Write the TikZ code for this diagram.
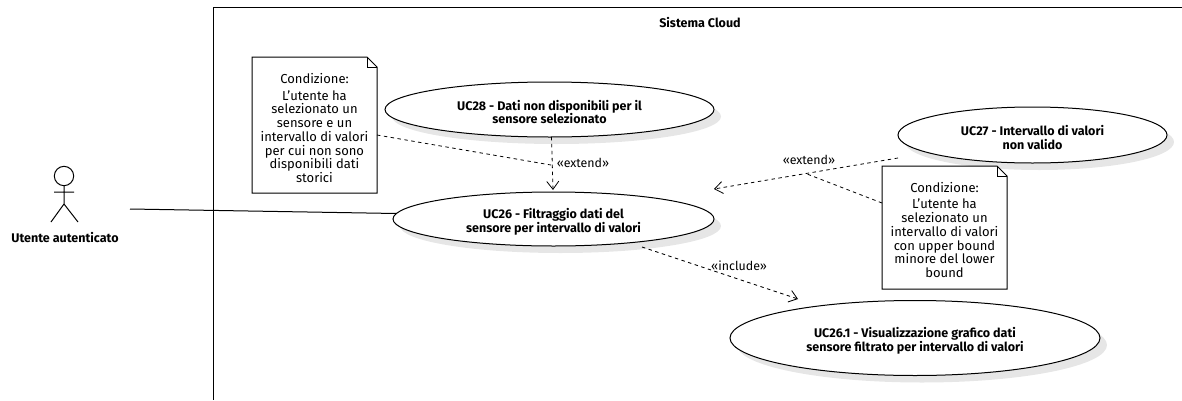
\documentclass[tikz,border=0pt]{standalone}
\usepackage{fontspec}
\setmainfont{Fira Sans}
\usetikzlibrary{arrows.meta,shapes.geometric}
\definecolor{ucgray}{HTML}{E6E6E6}
\newcommand{\ucdown}{\rule{0pt}{11.5pt}}
\tikzset{
  x=0.75pt,y=-0.75pt,
  uc/.style={ellipse,draw=black,fill=white,line width=0.75pt,inner sep=0pt,align=center,font=\fontsize{9.4}{10.4}\selectfont\bfseries},
  ucshadow/.style={ellipse,fill=ucgray,draw=none,inner sep=0pt},
  notebox/.style={inner sep=0pt,align=center,font=\fontsize{9.75}{10.3}\selectfont},
  noteline/.style={draw=black,fill=white,line width=0.75pt,line join=miter},
  dep/.style={draw=black,line width=0.6pt,dash pattern=on 2.6pt off 2.6pt},
  deparrow/.style={dep,-{Straight Barb[length=6pt,width=9pt,line width=0.6pt]}},
  lbl/.style={inner sep=0pt,font=\fontsize{9.3}{11}\selectfont},
  stick/.style={draw=black,line width=0.75pt},
}
\begin{document}
\begin{tikzpicture}
\useasboundingbox (0,0) rectangle (1182,400);
\draw[black,line width=0.75pt] (1182,7) -- (213,7) -- (213,400);
\node[inner sep=0pt,font=\fontsize{9.4}{11}\selectfont\bfseries] (sys) at (700,22.5) {Sistema Cloud};
% actor
\node[circle,draw=black,line width=0.75pt,minimum size=14.5pt,inner sep=0pt] (head) at (64,176) {};
\coordinate (hip) at (64,204);
\coordinate (armL) at (54,192);
\coordinate (armR) at (74,192);
\coordinate (legL) at (51,222);
\coordinate (legR) at (78,222);
\draw[stick] (head.south) -- (hip) (armL) -- (armR) (hip) -- (legL) (hip) -- (legR);
\node[inner sep=0pt,font=\fontsize{9.4}{11}\selectfont\bfseries] (actor) at (65,238) {Utente autenticato};
\coordinate (actorEnd) at (130,209);
% shadows
\node[ucshadow,minimum width=246.75pt,minimum height=41.25pt] (s28) at (556.5,116.5) {};
\node[ucshadow,minimum width=240.75pt,minimum height=40.5pt] (s26) at (560.5,226) {};
\node[ucshadow,minimum width=201.75pt,minimum height=42pt] (s27) at (1039.5,142) {};
\node[ucshadow,minimum width=277.5pt,minimum height=56.25pt] (s261) at (922,345) {};
% use cases
\node[uc,minimum width=246.75pt,minimum height=41.25pt] (uc28) at (549.5,109.5) {\ucdown UC28 - Dati non disponibili per il\\sensore selezionato};
\node[uc,minimum width=240.75pt,minimum height=40.5pt] (uc26) at (553.5,219) {\ucdown UC26 - Filtraggio dati del\\sensore per intervallo di valori};
\node[uc,minimum width=201.75pt,minimum height=42pt] (uc27) at (1032.5,135) {\ucdown UC27 - Intervallo di valori\\non valido};
\node[uc,minimum width=277.5pt,minimum height=56.25pt] (uc261) at (915,338) {\ucdown UC26.1 - Visualizzazione grafico dati\\sensore filtrato per intervallo di valori};
% notes
\coordinate (n1a) at (252,57);
\coordinate (n1b) at (377,193);
\path[noteline] (n1a) -- (367,57) -- (377,67) -- (n1b) -- (252,193) -- cycle;
\draw[stick] (367,57) -- (367,67) -- (377,67);
\node[notebox] (note1) at (314.5,128) {Condizione:\\[2.2pt]L'utente ha\\selezionato un\\sensore e un\\intervallo di valori\\per cui non sono\\disponibili dati\\storici};
\coordinate (n2a) at (882,166);
\coordinate (n2b) at (1007,289);
\path[noteline] (n2a) -- (997,166) -- (1007,176) -- (n2b) -- (882,289) -- cycle;
\draw[stick] (997,166) -- (997,176) -- (1007,176);
\node[notebox] (note2) at (944.5,230) {Condizione:\\[2.2pt]L'utente ha\\selezionato un\\intervallo di valori\\con upper bound\\minore del lower\\bound};
% connectors
\draw[stick] (actorEnd) -- (uc26.178);
\coordinate (n1out) at (377,135);
\coordinate (j1) at (551,165);
\coordinate (e1s) at (551.5,137);
\coordinate (e1t) at (553,190);
\draw[deparrow] (e1s) -- (e1t);
\draw[dep] (n1out) -- (j1);
\coordinate (e2s) at (898,158);
\coordinate (e2t) at (714,189);
\coordinate (j2) at (807,174);
\coordinate (n2out) at (882,203);
\draw[deparrow] (e2s) -- (e2t);
\draw[dep] (n2out) -- (j2);
\coordinate (i1s) at (642,247);
\coordinate (i1t) at (798,299);
\draw[deparrow] (i1s) -- (i1t);
% labels
\node[lbl] (l1) at (583,163) {«extend»};
\node[lbl] (l2) at (809,160) {«extend»};
\node[lbl] (l3) at (739,266) {«include»};
\end{tikzpicture}
\end{document}
